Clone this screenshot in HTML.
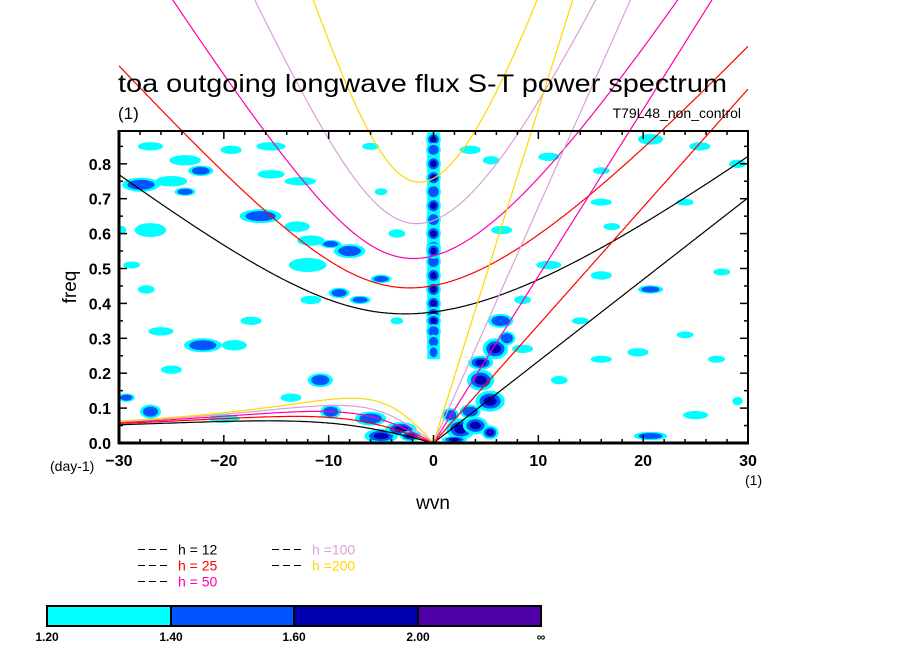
<!DOCTYPE html>
<html><head><meta charset="utf-8"><style>
html,body{margin:0;padding:0;background:#fff;}
svg{display:block;font-family:"Liberation Sans",sans-serif;}
</style></head><body>
<svg id="chart" width="904" height="654" viewBox="0 0 904 654" xmlns="http://www.w3.org/2000/svg">
<defs><clipPath id="plotclip"><rect x="119" y="131" width="629" height="312"/></clipPath>
<clipPath id="curveclip"><rect x="119" y="0" width="629" height="443"/></clipPath></defs>
<g id="blobs" clip-path="url(#plotclip)"></g>
<g id="curves" clip-path="url(#curveclip)"></g>
<g id="axes"></g>
<text x="118" y="92" font-size="25" textLength="609" lengthAdjust="spacingAndGlyphs">toa outgoing longwave flux S-T power spectrum</text>
<text x="118" y="119" font-size="17">(1)</text>
<text x="741" y="118" font-size="14" text-anchor="end">T79L48_non_control</text>
<text x="0" y="0" font-size="19" transform="translate(76,287) rotate(-90)" text-anchor="middle">freq</text>
<text x="433" y="509" font-size="19" text-anchor="middle">wvn</text>
<text x="50" y="471" font-size="14">(day-1)</text>
<text x="745" y="485" font-size="14">(1)</text>
<g id="legend"></g>
<g id="colorbar"></g>
</svg>
<script>
const depths=[12,25,50,100,200];
const depthColors=['#000000','#ff0000','#ff00aa','#d8a0d8','#ffd700'];
const xTicks=[-30,-20,-10,0,10,20,30];
const yTicks=[0.0,0.1,0.2,0.3,0.4,0.5,0.6,0.7,0.8];
const levelValues=['1.20','1.40','1.60','2.00','\u221e'];
const levelColors=['#00ffff','#0055ff','#0000b0','#5000a8'];
// column band at wavenumber 0: frequency range
const columnFreq=[0.24,0.89];
// blobs: wavenumber, frequency, half-width (wvn), half-height (freq), level
const blobK=[-27,-23.7,-19.3,-15.5,-6,-27.9,-25,-23.7,-22.2,-15.5,-12.7,-29.8,-27,-16.5,-13,-11.7,-9.8,-8,-9,-12,-11.7,-7,-27.4,-28.8,-26,-22,-19,-25,-17.4,-10.8,-9.8,-13.6,-27,-29.3,-20,-5,-3.5,-3.5,-5,3.5,5.5,11,16,20.7,25.4,29,6.5,11,8.5,16,20.7,27.5,8.5,12,17,19.5,24,27,16,25,20.7,29,16,24,14,
-5,-3.1,-2.2,-6,2.6,4,5.4,4.5,5.9,3.5,5.4,1.6,6.4,4.5,7,2,
0,0,0,0,0,0,0,0,0,0,0,0,0,0,0,0,0,0,0];
const blobF=[0.85,0.81,0.84,0.85,0.85,0.74,0.75,0.72,0.78,0.77,0.75,0.61,0.61,0.65,0.62,0.58,0.57,0.55,0.43,0.51,0.41,0.41,0.44,0.51,0.32,0.28,0.28,0.21,0.35,0.18,0.09,0.13,0.09,0.13,0.07,0.47,0.35,0.6,0.72,0.84,0.81,0.82,0.78,0.87,0.85,0.8,0.61,0.51,0.41,0.48,0.44,0.49,0.27,0.18,0.62,0.26,0.31,0.24,0.24,0.08,0.02,0.12,0.69,0.69,0.35,
0.02,0.04,0.02,0.07,0.04,0.05,0.12,0.18,0.27,0.09,0.03,0.08,0.35,0.23,0.3,0.01,
0.87,0.84,0.8,0.76,0.72,0.68,0.64,0.6,0.56,0.52,0.48,0.44,0.4,0.37,0.35,0.32,0.29,0.26,0.55];
const blobW=[1.2,1.5,1.0,1.4,0.8,1.8,1.5,1.0,1.2,1.3,1.5,0.5,1.5,2.0,1.2,1.3,1.0,1.5,1.0,1.8,1.0,1.0,0.8,0.8,1.2,1.8,1.2,1.0,1.0,1.2,1.0,1.0,1.0,0.8,1.5,1.0,0.6,0.8,0.6,1.0,0.8,1.0,0.8,1.2,1.0,0.8,1.0,1.2,0.8,1.0,1.2,0.8,1.0,0.8,0.8,1.0,0.8,0.8,1.0,1.2,1.6,0.5,1.0,0.8,0.8,
1.6,1.5,1.0,1.5,1.4,1.2,1.4,1.3,1.2,1.0,0.8,0.8,1.2,1.2,0.8,1.2,
0.7,0.7,0.7,0.7,0.7,0.7,0.7,0.7,0.7,0.7,0.7,0.7,0.7,0.7,0.7,0.7,0.6,0.5,0.7];
const blobH=[0.012,0.015,0.012,0.012,0.01,0.02,0.015,0.012,0.015,0.012,0.012,0.012,0.02,0.02,0.015,0.015,0.012,0.02,0.015,0.02,0.012,0.012,0.012,0.01,0.012,0.02,0.015,0.012,0.012,0.02,0.02,0.012,0.02,0.012,0.012,0.012,0.01,0.012,0.01,0.012,0.012,0.012,0.01,0.015,0.012,0.012,0.012,0.012,0.012,0.012,0.012,0.01,0.012,0.012,0.01,0.012,0.01,0.01,0.01,0.012,0.012,0.012,0.01,0.01,0.01,
0.02,0.02,0.015,0.02,0.03,0.025,0.03,0.03,0.03,0.02,0.02,0.02,0.02,0.02,0.02,0.01,
0.02,0.02,0.022,0.022,0.022,0.022,0.022,0.022,0.022,0.022,0.022,0.022,0.022,0.02,0.02,0.02,0.02,0.02,0.022];
const blobL=[1,1,1,1,1,2,1,2,2,1,1,1,1,2,1,1,2,2,2,1,1,2,1,1,1,2,1,1,1,2,2,1,2,2,1,2,1,1,1,1,1,1,1,1,1,1,1,1,1,1,2,1,1,1,1,1,1,1,1,1,2,1,1,1,1,
3,3,4,2,3,3,3,3,3,2,4,2,2,3,2,3,
3,2,3,3,2,3,2,3,3,2,3,3,4,4,3,2,2,2,3];

const NS='http://www.w3.org/2000/svg';
const X0=119,X1=748,Y0=443,PY=349;
function sx(k){return X0+(k+30)/60*(X1-X0);}
function sy(f){return Y0-f*PY;}
function mk(tag,attrs,parent){const e=document.createElementNS(NS,tag);for(const a in attrs)e.setAttribute(a,attrs[a]);parent.appendChild(e);return e;}

// contours
const gB=document.getElementById('blobs');
const col1=mk('rect',{x:sx(-0.6),y:sy(columnFreq[1]),width:sx(0.6)-sx(-0.6),height:sy(columnFreq[0])-sy(columnFreq[1]),fill:levelColors[0]},gB);


const col2=mk('rect',{x:sx(-0.3),y:sy(columnFreq[1]-0.01),width:sx(0.3)-sx(-0.3),height:sy(columnFreq[0]+0.04)-sy(columnFreq[1]-0.01),fill:levelColors[1]},gB);


for(let i=0;i<blobK.length;i++){
  for(let l=1;l<=blobL[i];l++){
    const s=1-(l-1)*0.28;
    const e=mk('ellipse',{cx:sx(blobK[i]),cy:sy(blobF[i]),rx:Math.max(1,blobW[i]*10.48*s),ry:Math.max(1,blobH[i]*PY*s),fill:levelColors[l-1]},gB);
    
    
  }
}

// dispersion curves
const g=9.81,a=6.371e6,beta=2*7.292e-5/a,cpd=86400/(2*Math.PI);
const gC=document.getElementById('curves');
depths.forEach((h,j)=>{
  const c=Math.sqrt(g*h);
  let ig='',er='',kel='';
  for(let s=-30;s<=30.0001;s+=0.1){
    const k=s/a;
    const p=-(c*c*k*k+3*beta*c),q=-beta*c*c*k;
    const m=2*Math.sqrt(-p/3);
    let arg=3*q/(2*p)*Math.sqrt(-3/p);arg=Math.max(-1,Math.min(1,arg));
    const th=Math.acos(arg)/3;
    const r=[0,1,2].map(n=>m*Math.cos(th-2*Math.PI*n/3)).sort((x,y)=>x-y);
    ig+=(ig?'L':'M')+sx(s).toFixed(1)+','+sy(r[2]*cpd).toFixed(1);
    if(s<=0.0001) er+=(er?'L':'M')+sx(s).toFixed(1)+','+sy(Math.max(0,r[1])*cpd).toFixed(1);
    if(s>=-0.0001) kel+=(kel?'L':'M')+sx(s).toFixed(1)+','+sy(c*k*cpd).toFixed(1);
  }
  [['ig',ig],['er',er],['kelvin',kel]].forEach(([nm,d])=>{
    const e=mk('path',{d:d,fill:'none',stroke:depthColors[j],'stroke-width':1.2},gC);
    
    
  });
});

// axes
const gA=document.getElementById('axes');
const fr=mk('rect',{x:X0,y:131,width:X1-X0,height:Y0-131,fill:'none',stroke:'#000','stroke-width':2},gA);

mk('line',{x1:X0-1,y1:Y0,x2:X1+1,y2:Y0,stroke:'#000','stroke-width':3},gA);
mk('line',{x1:X0,y1:130,x2:X0,y2:Y0+1,stroke:'#000','stroke-width':3},gA);
for(let k=-30;k<=30;k+=2){
  const L=(k%10===0)?8:4;
  mk('line',{x1:sx(k),y1:Y0,x2:sx(k),y2:Y0-L,stroke:'#000','stroke-width':1.5},gA);
  mk('line',{x1:sx(k),y1:131,x2:sx(k),y2:131+L,stroke:'#000','stroke-width':1.5},gA);
}
for(let i=0;i<=17;i++){
  const f=i*0.05,L=(i%2===0)?8:4;
  mk('line',{x1:X0,y1:sy(f),x2:X0+L,y2:sy(f),stroke:'#000','stroke-width':1.5},gA);
  mk('line',{x1:X1,y1:sy(f),x2:X1-L,y2:sy(f),stroke:'#000','stroke-width':1.5},gA);
}
xTicks.forEach(v=>{
  const t=mk('text',{x:sx(v),y:466,'font-size':16,'font-weight':'bold','text-anchor':'middle'},gA);
  t.textContent=(v<0?'\u2212'+(-v):v);
  
});
yTicks.forEach(v=>{
  const t=mk('text',{x:111,y:sy(v)+6,'font-size':16,'font-weight':'bold','text-anchor':'end'},gA);
  t.textContent=v.toFixed(1);
  
});

// legend
const gL=document.getElementById('legend');
depths.forEach((h,j)=>{
  const col=j<3?0:1,row=j<3?j:j-3;
  const lx=col?272:138,ly=549.5+row*16;
  const ln=mk('line',{x1:lx,y1:ly,x2:lx+31,y2:ly,stroke:'#000','stroke-dasharray':'7,4','stroke-width':1,'shape-rendering':'crispEdges'},gL);
  
  const t=mk('text',{x:lx+40,y:ly+5,'font-size':14,fill:depthColors[j]},gL);
  t.textContent=h<100?('h = '+h):('h ='+h);
  
});

// colorbar
const gCB=document.getElementById('colorbar');
const cbx=[47,171,294,418,541];
levelColors.forEach((c,i)=>{
  const r=mk('rect',{x:cbx[i],y:606,width:cbx[i+1]-cbx[i],height:20,fill:c,stroke:'#000','stroke-width':2},gCB);
  
});
levelValues.forEach((v,i)=>{
  const t=mk('text',{x:cbx[i],y:641,'font-size':12,'font-weight':'bold','text-anchor':'middle'},gCB);
  t.textContent=v;
  
});
</script>
</body></html>
